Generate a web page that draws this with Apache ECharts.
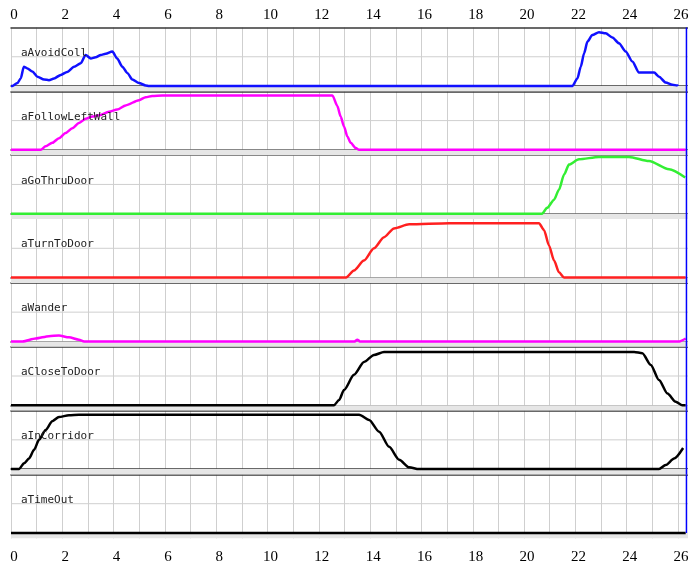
<!DOCTYPE html>
<html><head><meta charset="utf-8">
<script src="https://cdn.jsdelivr.net/npm/echarts@6/dist/echarts.min.js"></script>
<style>html,body{margin:0;padding:0;background:#fff}#c{width:688px;height:565px}</style>
</head><body><div id="c"></div>
<script>
// ---- data ----
const panelNames = ['aAvoidColl','aFollowLeftWall','aGoThruDoor','aTurnToDoor','aWander','aCloseToDoor','aInCorridor','aTimeOut'];
const panelColors = ['#1010ff','#ff00ff','#33ee33','#ff2020','#ff00ff','#000000','#000000','#000000'];
const xTickLabels = [0,2,4,6,8,10,12,14,16,18,20,22,24,26];
const cursorX = 26.33;

const aAvoidColl = [[0,0],[0.05,0],[0.25,0.05],[0.38,0.13],[0.5,0.33],[0.64,0.30],[0.83,0.25],[1.03,0.16],[1.29,0.11],[1.48,0.10],[1.68,0.13],[1.94,0.19],[2.19,0.24],[2.46,0.33],[2.72,0.39],[2.91,0.53],[3.11,0.47],[3.30,0.49],[3.50,0.53],[3.69,0.55],[3.95,0.59],[4.14,0.47],[4.34,0.33],[4.54,0.22],[4.73,0.11],[4.99,0.05],[5.25,0.01],[5.38,0],[21.88,0],[22.08,0.13],[22.21,0.33],[22.34,0.56],[22.47,0.76],[22.66,0.87],[22.92,0.92],[23.18,0.90],[23.44,0.83],[23.7,0.73],[23.96,0.59],[24.22,0.42],[24.48,0.23],[25.07,0.23],[25.26,0.16],[25.52,0.06],[25.78,0.02],[25.98,0.01],[26.0,0]];
const aFollowLeftWall = [[0,0],[1.16,0],[1.35,0.06],[1.61,0.12],[1.87,0.20],[2.13,0.29],[2.39,0.37],[2.65,0.46],[2.91,0.53],[3.17,0.57],[3.43,0.59],[3.82,0.65],[4.14,0.69],[4.47,0.76],[4.99,0.85],[5.25,0.90],[5.5,0.92],[5.9,0.93],[12.53,0.93],[12.72,0.75],[12.85,0.57],[12.98,0.40],[13.11,0.23],[13.24,0.12],[13.44,0.03],[13.57,0],[26.3,0]];
const aGoThruDoor = [[0,0],[20.70,0],[20.90,0.10],[21.17,0.24],[21.36,0.41],[21.56,0.67],[21.75,0.84],[22.14,0.93],[22.92,0.97],[24.09,0.97],[24.87,0.90],[25.65,0.76],[26.28,0.62]];
const aTurnToDoor = [[0,0],[13.06,0],[13.37,0.12],[13.76,0.29],[14.15,0.50],[14.54,0.69],[14.93,0.84],[15.52,0.91],[17.08,0.93],[20.58,0.93],[20.78,0.81],[20.97,0.55],[21.17,0.29],[21.36,0.09],[21.56,0],[26.3,0]];
const aWander = [[0,0],[0.45,0],[0.96,0.05],[1.48,0.09],[1.87,0.10],[2.26,0.07],[2.65,0.03],[2.85,0],[13.4,0],[13.5,0.03],[13.6,0],[26.05,0],[26.3,0.05]];
const aCloseToDoor = [[0,0],[12.59,0],[12.79,0.09],[12.98,0.26],[13.37,0.52],[13.76,0.74],[14.15,0.86],[14.54,0.91],[24.29,0.91],[24.61,0.89],[24.94,0.69],[25.26,0.43],[25.59,0.20],[25.91,0.06],[26.17,0],[26.3,0]];
const aInCorridor = [[0,0],[0.31,0],[0.51,0.10],[0.70,0.18],[0.90,0.33],[1.09,0.50],[1.35,0.67],[1.61,0.82],[1.87,0.89],[2.26,0.92],[2.65,0.93],[13.57,0.93],[13.96,0.84],[14.35,0.64],[14.74,0.38],[15.13,0.16],[15.52,0.03],[15.9,0],[25.26,0],[25.52,0.07],[25.85,0.18],[26.2,0.36]];
const aTimeOut = [[0,0],[26.3,0]];
const panelData = [aAvoidColl,aFollowLeftWall,aGoThruDoor,aTurnToDoor,aWander,aCloseToDoor,aInCorridor,aTimeOut];

// ---- layout ----
const XMAX = 26.39;
const LEFT = 11, TOP0 = 27.5, STEP = 63.85, PLOT_H = 58.5;
const YMIN = -(STEP - PLOT_H) / PLOT_H;
const GRID_C = '#cfcfcf', DARK = '#383838', BAND = '#e6e6e6';
const tickFont = {fontFamily:'Liberation Serif', fontSize:15, color:'#000'};
const tickFmt = v => xTickLabels.includes(v) ? String(v) : '';
const LAST = panelNames.length - 1;

const grid = [], xAxis = [], yAxis = [], series = [], title = [];
panelNames.forEach((name, i) => {
  const top = TOP0 + STEP * i;
  grid.push({left: LEFT, right: 0, top: top, height: STEP, outerBoundsMode: 'none'});
  xAxis.push({
    gridIndex: i, type: 'value', min: 0, max: XMAX, interval: 1, position: 'bottom',
    axisLine: {show: i !== LAST, onZero: i !== LAST, lineStyle: {color: DARK, width: 1.5}},
    axisTick: {show: false},
    axisLabel: i === LAST ? Object.assign({show: true, margin: 11, showMaxLabel: false,
      padding: [0, 0, 0, 6], formatter: tickFmt}, tickFont) : {show: false},
    splitLine: {show: true, lineStyle: {color: GRID_C, width: 1}}
  });
  xAxis.push({
    gridIndex: i, type: 'value', min: 0, max: XMAX, interval: 1, position: 'top',
    axisLine: {show: i !== 3, onZero: false, lineStyle: {color: DARK, width: 1.5}},
    axisTick: {show: false},
    axisLabel: i === 0 ? Object.assign({show: true, margin: 5, showMaxLabel: false,
      padding: [0, 0, 0, 6], formatter: tickFmt}, tickFont) : {show: false},
    splitLine: {show: false}
  });
  yAxis.push({gridIndex: i, type: 'value', min: YMIN, max: 1, show: false});
  // mid grid line + band below zero
  series.push({
    type: 'line', xAxisIndex: 2 * i, yAxisIndex: i, z: 1, silent: true,
    data: [[0, 0.5], [XMAX, 0.5]], symbol: 'none',
    lineStyle: {color: GRID_C, width: 1},
    markArea: {silent: true, itemStyle: {color: BAND}, data: [[{yAxis: YMIN}, {yAxis: 0}]]}
  });
  series.push({
    type: 'line', name: name, xAxisIndex: 2 * i, yAxisIndex: i, z: 3,
    data: panelData[i], symbol: 'none', smooth: 0.25, smoothMonotone: 'x',
    lineStyle: {color: panelColors[i], width: 2.5}
  });
  // cursor line (blue vertical)
  series.push({
    type: 'line', xAxisIndex: 2 * i, yAxisIndex: i, z: 4, silent: true,
    data: [[cursorX, i === LAST ? 0 : YMIN], [cursorX, 1]], symbol: 'none',
    lineStyle: {color: '#0000ff', width: 1.5}
  });
  title.push({text: name, left: 21, top: top + 20, padding: 0,
    textStyle: {fontFamily: 'DejaVu Sans Mono', fontSize: 11, fontWeight: 'normal', color: '#222'}});
});

const chart = echarts.init(document.getElementById('c'), null, {renderer: 'canvas'});
chart.setOption({animation: false, backgroundColor: '#fff', title, grid, xAxis, yAxis, series});
</script></body></html>
